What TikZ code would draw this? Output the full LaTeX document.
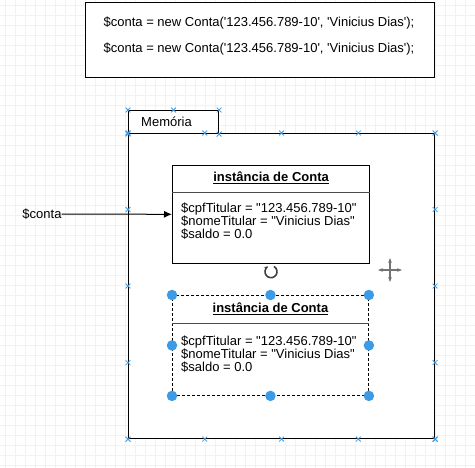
\documentclass[tikz,border=0pt]{standalone}
\usepackage{fontspec}
\setmainfont{Liberation Sans}
\usetikzlibrary{shapes,arrows,arrows.meta,positioning,fit,calc}
\definecolor{azul}{HTML}{3D9BE6}
\tikzstyle{grade} = [black!5,line width=0.4pt]
\tikzstyle{caixa} = [draw,line width=1.1pt,fill=white,inner sep=0]
\tikzstyle{texto} = [font=\fontsize{13}{12.6}\selectfont,inner sep=0]
\tikzstyle{titulo} = [font=\fontsize{13}{12.6}\selectfont\bfseries,inner sep=0]
\tikzstyle{divisa} = [black!70,line width=0.6pt]
\tikzstyle{marca} = [cross out,draw=azul,line width=0.8pt,minimum size=4pt,inner sep=0]
\tikzstyle{ponto} = [circle,fill=azul,inner sep=0,minimum size=10.5pt]
\def \aspa {\textquotedbl}

\begin{document}
\begin{tikzpicture}[x=1pt,y=-1pt,>={Latex[length=8pt,width=7pt]}]
  \useasboundingbox (0,0) rectangle (475,468);
  % grade de fundo
  \foreach \x in {5,15,...,475} \draw[grade] (\x,0) -- (\x,468);
  \foreach \y in {5,15,...,465} \draw[grade] (0,\y) -- (475,\y);

  % codigo
  \node[caixa,minimum width=349,minimum height=75,anchor=north west] (codigo) at (85,2) {};
  \node[texto] (linha1) at (259,23) {\$conta = new Conta(\textquotesingle 123.456.789-10\textquotesingle, \textquotesingle Vinicius Dias\textquotesingle);};
  \node[texto] (linha2) at (259,49) {\$conta = new Conta(\textquotesingle 123.456.789-10\textquotesingle, \textquotesingle Vinicius Dias\textquotesingle);};

  % memoria
  \node[caixa,minimum width=90,minimum height=23,anchor=north west] (aba) at (128,110) {};
  \node[texto,anchor=west] (rotulo) at (141,121.5) {Memória};
  \node[caixa,minimum width=306,minimum height=305,anchor=north west] (memoria) at (128,133) {};
  \foreach \a in {north west,north,north east,south west,south east} \node[marca] at (aba.\a) {};
  \foreach \k in {0,...,4} {
    \node[marca] at ($(memoria.north west)!\k/4!(memoria.north east)$) {};
    \node[marca] at ($(memoria.south west)!\k/4!(memoria.south east)$) {};
    \node[marca] at ($(memoria.north west)!\k/4!(memoria.south west)$) {};
    \node[marca] at ($(memoria.north east)!\k/4!(memoria.south east)$) {};
  }

  % primeira instancia
  \node[caixa,minimum width=197,minimum height=98,anchor=north west] (inst1) at (172,165) {};
  \draw[divisa] ([yshift=-27pt]inst1.north west) -- ([yshift=-27pt]inst1.north east);
  \node[titulo] (titulo1) at ([yshift=-13pt]inst1.north) {\underline{instância de Conta}};
  \node[texto,align=left,anchor=north west] (corpo1) at ([xshift=9pt,yshift=-38pt]inst1.north west)
    {\$cpfTitular = \aspa 123.456.789-10\aspa\\\$nomeTitular = \aspa Vinicius Dias\aspa\\\$saldo = 0.0};

  \node[texto] (conta) at (42,214) {\$conta};
  \draw[->,line width=1pt] (conta) -- (inst1);

  % segunda instancia (selecionada)
  \node[caixa,dash pattern=on 3pt off 2pt,line width=0.9pt,minimum width=196,minimum height=100,anchor=north west] (inst2) at (172,295) {};
  \draw[divisa] ([yshift=-28pt]inst2.north west) -- ([yshift=-28pt]inst2.north east);
  \node[titulo] (titulo2) at ([yshift=-14pt]inst2.north) {\underline{instância de Conta}};
  \node[texto,align=left,anchor=north west] (corpo2) at ([xshift=9pt,yshift=-41pt]inst2.north west)
    {\$cpfTitular = \aspa 123.456.789-10\aspa\\\$nomeTitular = \aspa Vinicius Dias\aspa\\\$saldo = 0.0};
  \foreach \a in {north west,north,north east,east,south east,south,south west,west}
    \node[ponto] at (inst2.\a) {};

  % icones
  \draw[line width=1.6pt,black!75,-{Stealth[length=4pt]}] (274,266.5) arc[start angle=-60,end angle=240,radius=6];
  \draw[black!55,line width=1.2pt,{Stealth[length=5pt]}-{Stealth[length=5pt]}] (378,270) -- (402,270);
  \draw[black!55,line width=1.2pt,{Stealth[length=5pt]}-{Stealth[length=5pt]}] (390,258) -- (390,282);
\end{tikzpicture}
\end{document}
